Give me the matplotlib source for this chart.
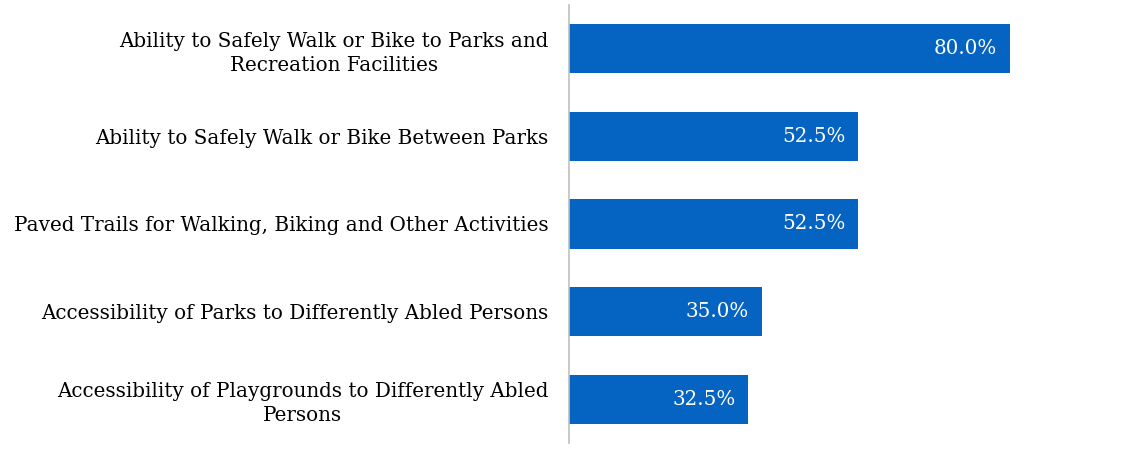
import matplotlib
matplotlib.use("Agg")
import matplotlib.pyplot as plt

labels = [
    "Ability to Safely Walk or Bike to Parks and\nRecreation Facilities",
    "Ability to Safely Walk or Bike Between Parks",
    "Paved Trails for Walking, Biking and Other Activities",
    "Accessibility of Parks to Differently Abled Persons",
    "Accessibility of Playgrounds to Differently Abled\nPersons",
]
values = [80.0, 52.5, 52.5, 35.0, 32.5]

plt.rcParams['font.family'] = ['DejaVu Serif']

fig = plt.figure(figsize=(11.25, 4.49), dpi=100)
ax = fig.add_axes([0.5058, 0.0134, 0.4898, 0.9755])

pos = list(range(len(values)))
ax.barh(pos, values, height=0.56, color="#0563C1")
ax.set_ylim(len(values) - 0.5, -0.5)
ax.set_xlim(0, 100)

for p, v in zip(pos, values):
    ax.text(v - 2.3, p, f"{v:.1f}%", ha="right", va="center",
            color="white", fontsize=14.3)

ax.set_yticks(pos)
ax.set_yticklabels(labels, fontsize=14.3, multialignment="center", linespacing=1.35)
ax.tick_params(axis="y", length=0, pad=15)
ax.set_xticks([])
for s in ["top", "right", "bottom"]:
    ax.spines[s].set_visible(False)
ax.spines["left"].set_color("#BFBFBF")
ax.spines["left"].set_linewidth(1.2)

fig.savefig("out.png", dpi=100)
